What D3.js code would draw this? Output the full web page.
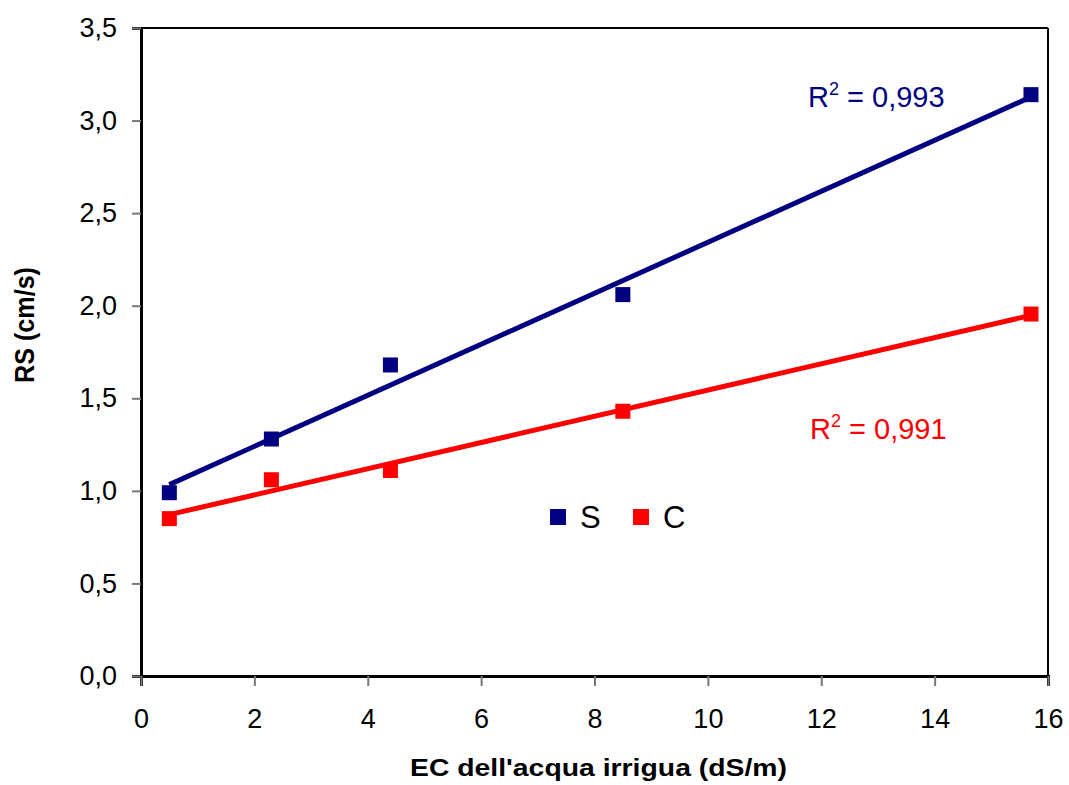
<!DOCTYPE html>
<html><head><meta charset="utf-8">
<script src="https://cdn.jsdelivr.net/npm/d3@7"></script>
<style>body{margin:0;background:#fff}svg{display:block;font-family:Arial,"Liberation Sans",sans-serif}</style>
</head><body><svg id="c" width="1069" height="785"></svg>
<script>
const ecValues = [0.5, 2.3, 4.4, 8.5, 15.7];
const seriesS = [0.99, 1.28, 1.68, 2.06, 3.14];
const seriesC = [0.85, 1.06, 1.11, 1.43, 1.955];
const seriesNames = ["S", "C"];
const r2Labels = ["0,993", "0,991"];
const xTicks = [0, 2, 4, 6, 8, 10, 12, 14, 16];
const yTicks = [0, 0.5, 1, 1.5, 2, 2.5, 3, 3.5];

const svg = d3.select("#c");
const L = 141, R = 1048, T = 28, B = 676;
const x = d3.scaleLinear().domain([0, 16]).range([L, R]);
const y = d3.scaleLinear().domain([0, 3.5]).range([B, T]);
const fmt = d => d3.format(".1f")(d).replace(".", ",");
const FF = "Arial, 'Liberation Sans', sans-serif";

// frame
svg.append("line").attr("x1", L).attr("x2", R).attr("y1", T).attr("y2", T).attr("stroke", "#000").attr("stroke-width", 2);
svg.append("line").attr("x1", R).attr("x2", R).attr("y1", T).attr("y2", B).attr("stroke", "#000").attr("stroke-width", 2);

// axes
const yAxis = svg.append("g").attr("transform", `translate(${L},0)`)
  .call(d3.axisLeft(y).tickValues(yTicks).tickFormat(fmt).tickSize(9).tickPadding(15));
const xAxis = svg.append("g").attr("transform", `translate(0,${B})`)
  .call(d3.axisBottom(x).tickValues(xTicks).tickFormat(d3.format("d")).tickSize(10).tickPadding(23));
[yAxis, xAxis].forEach(g => {
  g.select(".domain").attr("stroke", "#000").attr("stroke-width", 3);
  g.selectAll(".tick line").attr("stroke", "#777").attr("stroke-width", 2);
  g.selectAll(".tick text").attr("font-size", 27).attr("fill", "#000").attr("font-family", FF);
});

// axis titles
svg.append("text").attr("x", 410).attr("y", 776)
  .attr("font-size", 23).attr("font-weight", "bold")
  .attr("textLength", 377).attr("lengthAdjust", "spacingAndGlyphs")
  .text("EC dell'acqua irrigua (dS/m)");
svg.append("text").attr("transform", `translate(34,383) rotate(-90)`)
  .attr("font-size", 27).attr("font-weight", "bold")
  .attr("textLength", 116).attr("lengthAdjust", "spacingAndGlyphs")
  .text("RS (cm/s)");

function fit(xs, ys) {
  const mx = d3.mean(xs), my = d3.mean(ys);
  let num = 0, den = 0;
  xs.forEach((v, i) => { num += (v - mx) * (ys[i] - my); den += (v - mx) ** 2; });
  const b = num / den; return { a: my - b * mx, b };
}

const series = [
  { name: seriesNames[0], vals: seriesS, color: "#000080", r2: r2Labels[0], lx: 808, ly: 107 },
  { name: seriesNames[1], vals: seriesC, color: "#ff0000", r2: r2Labels[1], lx: 810, ly: 439 }
];
const ms = 15;
series.forEach(s => {
  const f = fit(ecValues, s.vals);
  const x0 = d3.min(ecValues), x1 = d3.max(ecValues);
  svg.append("line").attr("x1", x(x0)).attr("y1", y(f.a + f.b * x0)).attr("x2", x(x1)).attr("y2", y(f.a + f.b * x1))
    .attr("stroke", s.color).attr("stroke-width", 5);
  svg.selectAll(null).data(ecValues).enter().append("rect")
    .attr("x", d => x(d) - ms / 2).attr("y", (d, i) => y(s.vals[i]) - ms / 2)
    .attr("width", ms).attr("height", ms).attr("fill", s.color);
  const t = svg.append("text").attr("x", s.lx).attr("y", s.ly).attr("font-size", 29).attr("fill", s.color);
  t.append("tspan").text("R");
  t.append("tspan").attr("font-size", 18).attr("dy", -12).text("2");
  t.append("tspan").attr("dy", 12).text(" = " + s.r2);
});

// legend
const leg = [{ n: seriesNames[0], c: "#000080", x: 550 }, { n: seriesNames[1], c: "#ff0000", x: 633 }];
leg.forEach(l => {
  svg.append("rect").attr("x", l.x).attr("y", 509).attr("width", 16).attr("height", 16).attr("fill", l.c);
  svg.append("text").attr("x", l.x + 30).attr("y", 528).attr("font-size", 31).text(l.n);
});
</script></body></html>
